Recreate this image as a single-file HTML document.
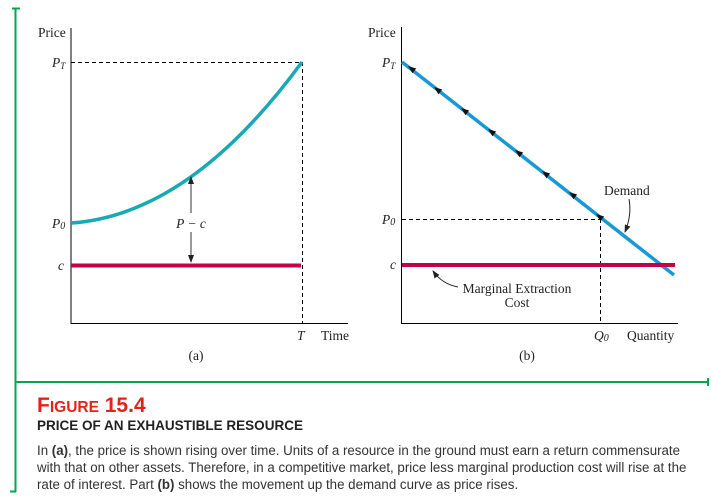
<!DOCTYPE html>
<html><head><style>
body{margin:0;background:#fff;width:711px;height:496px;overflow:hidden;position:relative;font-family:"Liberation Serif",serif;}
.cap{position:absolute;font-family:"Liberation Sans",sans-serif;}
</style></head><body>
<svg width="711" height="380" style="position:absolute;left:0;top:0" font-family="Liberation Serif, serif" font-size="13.5">
<defs>
<marker id="ah" markerWidth="8" markerHeight="8" refX="7" refY="4" orient="auto" markerUnits="userSpaceOnUse"><path d="M0,1 L8,4 L0,7 Z" fill="#222"/></marker>
</defs>
<line x1="15.5" y1="8" x2="15.5" y2="370" stroke="#00a650" stroke-width="2"/>
<line x1="12" y1="8.5" x2="20" y2="8.5" stroke="#00a650" stroke-width="2"/>
<!-- Panel a -->
<line x1="71" y1="28" x2="71" y2="324" stroke="#000" stroke-width="1"/>
<line x1="71" y1="323.5" x2="348" y2="323.5" stroke="#000" stroke-width="1"/>
<line x1="71" y1="62.5" x2="302" y2="62.5" stroke="#000" stroke-dasharray="4,3"/>
<line x1="302.5" y1="62" x2="302.5" y2="323" stroke="#000" stroke-dasharray="4,3"/>
<path d="M71,223 Q190,215 302,62" fill="none" stroke="#17a9b4" stroke-width="3.5"/>
<line x1="71" y1="265.5" x2="301" y2="265.5" stroke="#c4004a" stroke-width="4"/>
<line x1="191" y1="213" x2="191" y2="177" stroke="#333" marker-end="url(#ah)"/>
<line x1="191" y1="232" x2="191" y2="262" stroke="#333" marker-end="url(#ah)"/>
<text x="191" y="228" text-anchor="middle" font-style="italic" fill="#222">P − c</text>
<text x="38" y="37" fill="#222">Price</text>
<text x="52" y="67" font-style="italic" fill="#222">P<tspan font-size="9" dy="2">T</tspan></text>
<text x="52" y="228" font-style="italic" fill="#222">P<tspan font-size="10" dy="1">0</tspan></text>
<text x="58" y="270" font-style="italic" fill="#222">c</text>
<text x="297" y="340" font-style="italic" fill="#222">T</text>
<text x="321" y="340" fill="#222">Time</text>
<text x="196" y="360" text-anchor="middle" fill="#222">(a)</text>
<!-- Panel b -->
<line x1="401.5" y1="27" x2="401.5" y2="324" stroke="#000"/>
<line x1="401" y1="323.5" x2="678" y2="323.5" stroke="#000"/>
<line x1="402" y1="219.5" x2="600" y2="219.5" stroke="#000" stroke-dasharray="4,3"/>
<line x1="600.5" y1="219" x2="600.5" y2="323" stroke="#000" stroke-dasharray="4,3"/>
<line x1="402" y1="62" x2="674" y2="275" stroke="#1a98d5" stroke-width="3.5"/>
<line x1="402" y1="265" x2="675" y2="265" stroke="#c4004a" stroke-width="4"/>
<g fill="#111">
<path d="M0,0 L8,-3 L8,3 Z" transform="translate(408,66) rotate(38)"/>
<path d="M0,0 L8,-3 L8,3 Z" transform="translate(434,87) rotate(38)"/>
<path d="M0,0 L8,-3 L8,3 Z" transform="translate(461,108) rotate(38)"/>
<path d="M0,0 L8,-3 L8,3 Z" transform="translate(488,129) rotate(38)"/>
<path d="M0,0 L8,-3 L8,3 Z" transform="translate(515,150) rotate(38)"/>
<path d="M0,0 L8,-3 L8,3 Z" transform="translate(542,171) rotate(38)"/>
<path d="M0,0 L8,-3 L8,3 Z" transform="translate(569,192) rotate(38)"/>
<path d="M0,0 L8,-3 L8,3 Z" transform="translate(596,214) rotate(38)"/>
</g>
<text x="368" y="37" fill="#222">Price</text>
<text x="382" y="67" font-style="italic" fill="#222">P<tspan font-size="9" dy="2">T</tspan></text>
<text x="382" y="224" font-style="italic" fill="#222">P<tspan font-size="10" dy="1">0</tspan></text>
<text x="390" y="269" font-style="italic" fill="#222">c</text>
<text x="604" y="195" fill="#222">Demand</text>
<path d="M629,199 Q632,215 625,232" fill="none" stroke="#222" marker-end="url(#ah)"/>
<path d="M458,287 Q442,284 433,271" fill="none" stroke="#222" marker-end="url(#ah)"/>
<text x="517" y="293" text-anchor="middle" fill="#222">Marginal Extraction</text>
<text x="517" y="307" text-anchor="middle" fill="#222">Cost</text>
<text x="594" y="340" font-style="italic" fill="#222">Q<tspan font-size="10" dy="1">0</tspan></text>
<text x="627" y="340" fill="#222">Quantity</text>
<text x="527" y="360" text-anchor="middle" fill="#222">(b)</text>
</svg>
<svg width="711" height="496" style="position:absolute;left:0;top:0">
<line x1="15.5" y1="370" x2="15.5" y2="492" stroke="#00a650" stroke-width="2"/>
<line x1="15" y1="382" x2="709" y2="382" stroke="#00a650" stroke-width="2"/>
<line x1="708" y1="378" x2="708" y2="386" stroke="#00a650" stroke-width="2"/>
<line x1="10" y1="491.5" x2="16" y2="491.5" stroke="#00a650" stroke-width="2"/>
</svg>
<div class="cap" style="left:37px;top:395px;color:#e2231a;font-size:21px;font-weight:bold;line-height:22px;">F<span style="font-size:15.5px">IGURE</span> 15.4</div>
<div class="cap" style="left:37px;top:417px;color:#222;font-size:14px;font-weight:bold;line-height:16px;transform:scaleX(0.965);transform-origin:left;white-space:nowrap">PRICE OF AN EXHAUSTIBLE RESOURCE</div>
<div class="cap" style="left:37px;top:442px;color:#333;font-size:13.5px;line-height:17px;width:700px;white-space:nowrap;transform:scaleX(0.985);transform-origin:left">In <b>(a)</b>, the price is shown rising over time. Units of a resource in the ground must earn a return commensurate<br>with that on other assets. Therefore, in a competitive market, price less marginal production cost will rise at the<br>rate of interest. Part <b>(b)</b> shows the movement up the demand curve as price rises.</div>
</body></html>
